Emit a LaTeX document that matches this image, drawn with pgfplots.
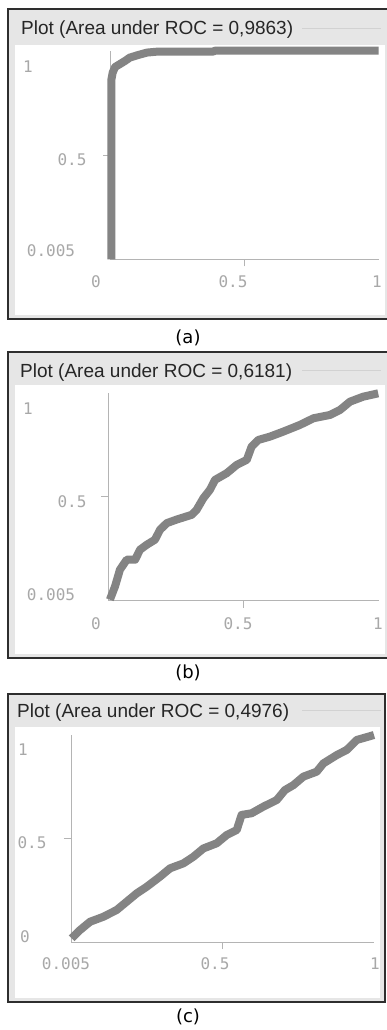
\documentclass[border=0pt]{standalone}
\usepackage{pgfplots}
\pgfplotsset{compat=1.18}
\usepackage{fontspec}
\setmainfont{Liberation Sans}
\newfontfamily\tickfont{DejaVu Sans Mono}
\newfontfamily\capfont{DejaVu Sans}
\definecolor{curvegray}{HTML}{848484}
\definecolor{axisgray}{HTML}{B4B4B4}
\definecolor{labgray}{HTML}{A8A8A8}
\definecolor{bargray}{HTML}{E6E6E6}
\definecolor{framedark}{HTML}{2E2E2E}
\pgfplotsset{rocaxis/.style={
  scale only axis, anchor=south west, clip=false,
  xmin=0, xmax=1, ymin=0, ymax=1,
  axis x line=bottom, axis y line=left,
  axis line style={-, draw=axisgray, line width=0.9pt},
  xtick={0.5}, ytick={0.5}, xticklabels={}, yticklabels={},
  tick align=outside, major tick length=7pt,
  tick style={draw=axisgray, line width=0.9pt},
}}
\newcommand{\frm}[5]{%
  \fill[bargray] (8pt,-#1pt) rectangle (#5pt,-#2pt);
  \fill[white] (15pt,-#3pt) rectangle (#5pt-5pt,-#4pt);
  \draw[framedark, line width=1.6pt] (8pt,-#1pt) rectangle (#5pt,-#2pt);
}
\newcommand{\tklab}[3]{\node[font=\tickfont\fontsize{16}{18}\selectfont, text=labgray, inner sep=0pt] at (#1pt,-#2pt) {#3};}
\newcommand{\ttl}[3]{%
  \node[anchor=base west, inner sep=0pt, font=\fontsize{19}{22}\selectfont, text=black!85] at (#1pt,-#2pt) {#3};
  \draw[gray!35, line width=0.8pt] (302pt,-#2pt+7pt) -- (381pt,-#2pt+7pt);
}
\newcommand{\capt}[3]{\node[font=\capfont\fontsize{18}{20}\selectfont, inner sep=0pt] at (#1pt,-#2pt) {#3};}
\begin{document}
\begin{tikzpicture}
\path[use as bounding box] (0pt,0pt) rectangle (387pt,-1030pt);
% ---------- panel (a)
\frm{9}{319}{45}{315}{390}
\ttl{21}{35}{Plot (Area under ROC = 0,9863)}
\begin{axis}[rocaxis, at={(110pt,-259.3pt)}, width=268.6pt, height=208.6pt]
\addplot[draw=curvegray, line width=8pt, line join=round] coordinates {
(0.005,0) (0.005,0.86) (0.010,0.895) (0.019,0.922) (0.037,0.936) (0.056,0.951)
(0.074,0.967) (0.104,0.979) (0.138,0.991) (0.180,0.996) (0.385,0.996) (0.39,1.0) (1.0,1.0)};
\end{axis}
\tklab{28}{67}{1}
\tklab{72}{160}{0.5}
\tklab{51}{251}{0.005}
\tklab{96}{282}{0}
\tklab{233}{282}{0.5}
\tklab{377}{282}{1}
\capt{188}{338}{(a)}
% ---------- panel (b)
\frm{352}{658}{385}{654}{390}
\ttl{20}{377}{Plot (Area under ROC = 0,6181)}
\begin{axis}[rocaxis, at={(108pt,-600.7pt)}, width=271pt, height=208pt]
\addplot[draw=curvegray, line width=8pt, line join=round] coordinates {
(0.007,0.005) (0.026,0.069) (0.044,0.149) (0.069,0.197) (0.100,0.197) (0.118,0.245)
(0.143,0.269) (0.173,0.293) (0.192,0.341) (0.217,0.373) (0.253,0.390) (0.309,0.413)
(0.327,0.437) (0.352,0.493) (0.376,0.533) (0.395,0.581) (0.438,0.613) (0.475,0.653)
(0.512,0.677) (0.530,0.741) (0.555,0.773) (0.598,0.789) (0.647,0.813) (0.708,0.845)
(0.758,0.877) (0.819,0.893) (0.856,0.917) (0.893,0.957) (0.942,0.981) (0.997,0.997)};
\end{axis}
\tklab{28}{409}{1}
\tklab{72}{502}{0.5}
\tklab{51}{595}{0.005}
\tklab{96}{624}{0}
\tklab{238}{624}{0.5}
\tklab{378}{624}{1}
\capt{188}{673}{(b)}
% ---------- panel (c)
\frm{694}{1002}{727}{998}{385}
\ttl{17}{717}{Plot (Area under ROC = 0,4976)}
\begin{axis}[rocaxis, at={(71pt,-942pt)}, width=303pt, height=207pt]
\addplot[draw=curvegray, line width=8pt, line join=round] coordinates {
(0.002,0.018) (0.030,0.058) (0.063,0.098) (0.107,0.122) (0.151,0.155) (0.184,0.195)
(0.217,0.235) (0.250,0.267) (0.294,0.316) (0.327,0.356) (0.371,0.380) (0.404,0.412)
(0.437,0.452) (0.481,0.477) (0.514,0.517) (0.547,0.541) (0.563,0.614) (0.596,0.622)
(0.635,0.654) (0.679,0.686) (0.706,0.734) (0.734,0.758) (0.767,0.799) (0.811,0.823)
(0.833,0.863) (0.877,0.903) (0.910,0.928) (0.943,0.976) (1.0,1.0)};
\end{axis}
\tklab{23}{750}{1}
\tklab{32}{843}{0.5}
\tklab{25}{937}{0}
\tklab{66}{964}{0.005}
\tklab{215}{964}{0.5}
\tklab{375}{964}{1}
\capt{188}{1017}{(c)}
\end{tikzpicture}
\end{document}
